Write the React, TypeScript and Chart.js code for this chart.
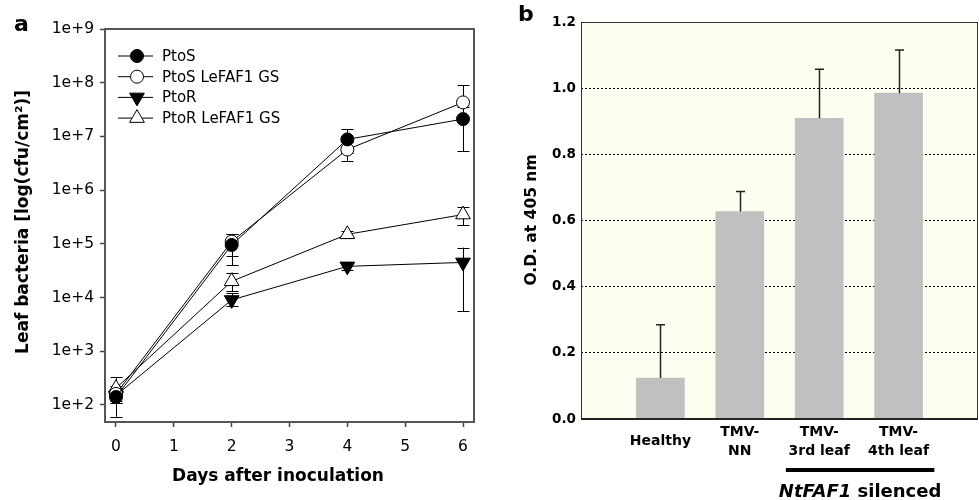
import React, { useEffect, useRef } from 'react';
import { Chart, registerables } from 'chart.js';

Chart.register(...registerables);

// ---------- Panel a data ----------
const days = [0, 2, 4, 6];
const dayTicks = [0, 1, 2, 3, 4, 5, 6];
const logTicks = [1e2, 1e3, 1e4, 1e5, 1e6, 1e7, 1e8, 1e9];
const logTickLabels = ['1e+2', '1e+3', '1e+4', '1e+5', '1e+6', '1e+7', '1e+8', '1e+9'];

const seriesNames = ['PtoS', 'PtoS LeFAF1 GS', 'PtoR', 'PtoR LeFAF1 GS'];

const ptoS = [140, 95000, 8.8e6, 2.1e7];
const ptoSHigh = [220, 150000, 1.35e7, 3.6e7];
const ptoSLow = [60, 40000, 5e6, 5.3e6];

const ptoSGS = [160, 110000, 5.7e6, 4.3e7];
const ptoSGSHigh = [210, 150000, 8e6, 9e7];
const ptoSGSLow = [110, 60000, 3.5e6, 2.2e7];

const ptoR = [150, 9000, 3.8e4, 4.5e4];
const ptoRHigh = [200, 12000, 4.4e4, 8.5e4];
const ptoRLow = [110, 7000, 3.3e4, 5.5e3];

const ptoRGS = [205, 20000, 1.5e5, 3.5e5];
const ptoRGSHigh = [330, 29000, 1.7e5, 4.9e5];
const ptoRGSLow = [120, 13000, 1.3e5, 2.2e5];

// ---------- Panel b data ----------
const groupPositions = [1, 2, 3, 4];
const groupLabels = [['Healthy'], ['TMV-', 'NN'], ['TMV-', '3rd leaf'], ['TMV-', '4th leaf']];
const odValues = [0.124, 0.627, 0.909, 0.985];
const odErrors = [0.161, 0.061, 0.148, 0.13];
const odTicks = [0, 0.2, 0.4, 0.6, 0.8, 1.0, 1.2];

const FONT = 'DejaVu Sans';

type MarkerKind = 'filledCircle' | 'openCircle' | 'downTriangle' | 'upTriangle';
const markerKinds: MarkerKind[] = ['filledCircle', 'openCircle', 'downTriangle', 'upTriangle'];

function drawMarker(ctx: CanvasRenderingContext2D, kind: MarkerKind, x: number, y: number) {
  ctx.save();
  ctx.lineWidth = 1;
  ctx.strokeStyle = '#000';
  ctx.beginPath();
  if (kind === 'filledCircle' || kind === 'openCircle') {
    ctx.arc(x, y, 6.5, 0, Math.PI * 2);
  } else {
    const r = 8.5;
    const s = kind === 'upTriangle' ? 1 : -1;
    ctx.moveTo(x, y - s * r);
    ctx.lineTo(x + r * 0.866, y + s * r * 0.5);
    ctx.lineTo(x - r * 0.866, y + s * r * 0.5);
    ctx.closePath();
  }
  ctx.fillStyle = kind === 'filledCircle' || kind === 'downTriangle' ? '#000' : '#fff';
  ctx.fill();
  ctx.stroke();
  ctx.restore();
}

function ChartA() {
  const ref = useRef<HTMLCanvasElement>(null);
  useEffect(() => {
    const values = [ptoS, ptoSGS, ptoR, ptoRGS];
    const errs = [
      [ptoSLow, ptoSHigh],
      [ptoSGSLow, ptoSGSHigh],
      [ptoRLow, ptoRHigh],
      [ptoRGSLow, ptoRGSHigh],
    ];
    const datasets = values.map((vals, k) => {
      const kind = markerKinds[k];
      const tri = kind === 'downTriangle' || kind === 'upTriangle';
      const filled = kind === 'filledCircle' || kind === 'downTriangle';
      return {
        label: seriesNames[k],
        data: days.map((d, i) => ({ x: d, y: vals[i] })),
        borderColor: '#000',
        borderWidth: 1,
        pointStyle: tri ? 'triangle' : 'circle',
        pointRotation: kind === 'downTriangle' ? 180 : 0,
        pointRadius: tri ? 8.5 : 6.5,
        pointBackgroundColor: filled ? '#000' : '#fff',
        pointBorderColor: '#000',
        pointBorderWidth: 1,
        showLine: true,
        fill: false,
        tension: 0,
      };
    });

    const decor = {
      id: 'decorA',
      beforeDatasetsDraw(chart: any) {
        const ctx = chart.ctx as CanvasRenderingContext2D;
        const xs = chart.scales.x;
        const ys = chart.scales.y;
        ctx.save();
        ctx.strokeStyle = '#000';
        ctx.lineWidth = 1;
        errs.forEach(([lo, hi]) => {
          days.forEach((d, i) => {
            const x = Math.round(xs.getPixelForValue(d)) + 0.5;
            const y1 = ys.getPixelForValue(lo[i]);
            const y2 = ys.getPixelForValue(hi[i]);
            ctx.beginPath();
            ctx.moveTo(x, y1);
            ctx.lineTo(x, y2);
            ctx.moveTo(x - 6, Math.round(y1) + 0.5);
            ctx.lineTo(x + 6, Math.round(y1) + 0.5);
            ctx.moveTo(x - 6, Math.round(y2) + 0.5);
            ctx.lineTo(x + 6, Math.round(y2) + 0.5);
            ctx.stroke();
          });
        });
        ctx.restore();
      },
      afterDraw(chart: any) {
        const ctx = chart.ctx as CanvasRenderingContext2D;
        const a = chart.chartArea;
        ctx.save();
        // frame
        ctx.strokeStyle = '#555';
        ctx.lineWidth = 2;
        ctx.strokeRect(a.left, a.top, a.right - a.left, a.bottom - a.top);
        // legend
        ctx.font = `15px '${FONT}'`;
        ctx.fillStyle = '#000';
        ctx.textBaseline = 'middle';
        seriesNames.forEach((name, k) => {
          const y = a.top + 27 + k * 20.7;
          ctx.strokeStyle = '#000';
          ctx.lineWidth = 1;
          ctx.beginPath();
          ctx.moveTo(a.left + 13, y);
          ctx.lineTo(a.left + 48, y);
          ctx.stroke();
          drawMarker(ctx, markerKinds[k], a.left + 32, y);
          ctx.fillStyle = '#000';
          ctx.fillText(name, a.left + 57, y + 1);
        });
        // panel letter
        ctx.font = `bold 22px '${FONT}'`;
        ctx.textBaseline = 'alphabetic';
        ctx.textAlign = 'left';
        ctx.fillText('a', 14, 31);
        // axis titles
        ctx.font = `bold 17px '${FONT}'`;
        ctx.textAlign = 'center';
        ctx.textBaseline = 'middle';
        ctx.fillText('Days after inoculation', 278, 477);
        ctx.translate(24, 222);
        ctx.rotate(-Math.PI / 2);
        ctx.fillText('Leaf bacteria [log(cfu/cm\u00B2)]', 0, 0);
        ctx.restore();
      },
    };

    const chart = new Chart(ref.current as HTMLCanvasElement, {
      type: 'line',
      data: { datasets: datasets as any },
      options: {
        animation: false,
        responsive: false,
        devicePixelRatio: 1,
        layout: { padding: { left: 0, top: 29, right: 16, bottom: 0 } },
        plugins: { legend: { display: false }, tooltip: { enabled: false } },
        scales: {
          x: {
            type: 'linear',
            min: -0.19,
            max: 6.19,
            afterBuildTicks: (s: any) => {
              s.ticks = dayTicks.map((v) => ({ value: v }));
            },
            afterFit: (s: any) => {
              s.height = 78;
            },
            grid: {
              display: true,
              drawOnChartArea: false,
              drawTicks: true,
              tickLength: 5,
              tickWidth: 1.5,
              tickColor: '#444',
              color: '#444',
            },
            border: { display: false },
            ticks: {
              font: { family: FONT, size: 15.5 },
              color: '#000',
              padding: 11,
              maxRotation: 0,
              autoSkip: false,
              callback: (v: any) => String(v),
            },
          },
          y: {
            type: 'logarithmic',
            min: 48,
            max: 1e9,
            afterBuildTicks: (s: any) => {
              s.ticks = logTicks.map((v) => ({ value: v }));
            },
            afterFit: (s: any) => {
              s.width = 105;
            },
            grid: {
              display: true,
              drawOnChartArea: false,
              drawTicks: true,
              tickLength: 5,
              tickWidth: 1.5,
              tickColor: '#444',
              color: '#444',
            },
            border: { display: false },
            ticks: {
              font: { family: FONT, size: 15.5 },
              color: '#000',
              padding: 6,
              autoSkip: false,
              callback: (_v: any, i: number) => logTickLabels[i],
            },
          },
        },
      },
      plugins: [decor],
    } as any);
    return () => chart.destroy();
  }, []);
  return <canvas ref={ref} width={490} height={500} style={{ position: 'absolute', left: 0, top: 0, width: 490, height: 500 }} />;
}

function ChartB() {
  const ref = useRef<HTMLCanvasElement>(null);
  useEffect(() => {
    const decor = {
      id: 'decorB',
      beforeDraw(chart: any) {
        const ctx = chart.ctx as CanvasRenderingContext2D;
        const a = chart.chartArea;
        ctx.save();
        ctx.fillStyle = '#FDFDF0';
        ctx.fillRect(a.left, a.top, a.right - a.left, a.bottom - a.top);
        ctx.restore();
      },
      afterDatasetsDraw(chart: any) {
        const ctx = chart.ctx as CanvasRenderingContext2D;
        const xs = chart.scales.x;
        const ys = chart.scales.y;
        ctx.save();
        ctx.strokeStyle = '#222';
        ctx.lineWidth = 1.5;
        groupPositions.forEach((p, i) => {
          const x = Math.round(xs.getPixelForValue(p)) + 0.5;
          const y1 = ys.getPixelForValue(odValues[i]);
          const y2 = ys.getPixelForValue(odValues[i] + odErrors[i]);
          ctx.beginPath();
          ctx.moveTo(x, y1);
          ctx.lineTo(x, y2);
          ctx.moveTo(x - 4.5, y2);
          ctx.lineTo(x + 4.5, y2);
          ctx.stroke();
        });
        ctx.restore();
      },
      afterDraw(chart: any) {
        const ctx = chart.ctx as CanvasRenderingContext2D;
        const a = chart.chartArea;
        const xs = chart.scales.x;
        ctx.save();
        ctx.strokeStyle = '#333';
        ctx.lineWidth = 1;
        ctx.strokeRect(a.left + 0.5, a.top + 0.5, a.right - a.left - 1, a.bottom - a.top);
        ctx.lineWidth = 2;
        ctx.strokeStyle = '#222';
        ctx.beginPath();
        ctx.moveTo(a.left, a.bottom);
        ctx.lineTo(a.right, a.bottom);
        ctx.stroke();
        // bracket for silenced groups
        const unit = xs.getPixelForValue(2) - xs.getPixelForValue(1);
        const bl = xs.getPixelForValue(groupPositions[2]) - 0.42 * unit;
        const br = xs.getPixelForValue(groupPositions[3]) + 0.45 * unit;
        ctx.fillStyle = '#000';
        ctx.fillRect(bl, 468, br - bl, 4);
        const cx = (bl + br) / 2;
        ctx.font = `italic bold 18px '${FONT}'`;
        const w1 = ctx.measureText('NtFAF1').width;
        ctx.font = `bold 18px '${FONT}'`;
        const w2 = ctx.measureText(' silenced').width;
        const sx = cx - (w1 + w2) / 2;
        ctx.textBaseline = 'alphabetic';
        ctx.textAlign = 'left';
        ctx.font = `italic bold 18px '${FONT}'`;
        ctx.fillText('NtFAF1', sx, 497);
        ctx.font = `bold 18px '${FONT}'`;
        ctx.fillText(' silenced', sx + w1, 497);
        // panel letter
        ctx.font = `bold 22px '${FONT}'`;
        ctx.fillText('b', 28, 21);
        // y title
        ctx.font = `bold 15.5px '${FONT}'`;
        ctx.textAlign = 'center';
        ctx.textBaseline = 'middle';
        ctx.translate(42, 220);
        ctx.rotate(-Math.PI / 2);
        ctx.fillText('O.D. at 405 nm', 0, 0);
        ctx.restore();
      },
    };

    const chart = new Chart(ref.current as HTMLCanvasElement, {
      type: 'bar',
      data: {
        datasets: [
          {
            label: 'O.D. at 405 nm',
            data: groupPositions.map((p, i) => ({ x: p, y: odValues[i] })),
            backgroundColor: '#C0C0C0',
            borderWidth: 0,
            barThickness: 48,
          },
        ],
      },
      options: {
        animation: false,
        responsive: false,
        devicePixelRatio: 1,
        layout: { padding: { left: 0, top: 22, right: 1, bottom: 0 } },
        plugins: { legend: { display: false }, tooltip: { enabled: false } },
        scales: {
          x: {
            type: 'linear',
            min: 0,
            max: 5,
            offset: false,
            afterBuildTicks: (s: any) => {
              s.ticks = groupPositions.map((v) => ({ value: v }));
            },
            afterFit: (s: any) => {
              s.height = 81;
            },
            grid: { display: false, offset: false },
            border: { display: false },
            ticks: {
              font: { family: FONT, size: 14, weight: 'bold', lineHeight: 1.35 },
              color: '#000',
              padding: 5,
              maxRotation: 0,
              autoSkip: false,
              crossAlign: 'center',
              callback: (_v: any, i: number) => groupLabels[i],
            },
          },
          y: {
            type: 'linear',
            min: 0,
            max: 1.2,
            afterBuildTicks: (s: any) => {
              s.ticks = odTicks.map((v) => ({ value: v }));
            },
            afterFit: (s: any) => {
              s.width = 91;
            },
            grid: {
              display: true,
              drawTicks: false,
              lineWidth: 1,
              color: (c: any) =>
                c.tick && (c.tick.value === odTicks[0] || c.tick.value === odTicks[odTicks.length - 1])
                  ? 'rgba(0,0,0,0)'
                  : '#000',
            },
            border: { display: false, dash: [2, 2] },
            ticks: {
              font: { family: FONT, size: 13.5, weight: 'bold' },
              color: '#000',
              padding: 5,
              autoSkip: false,
              callback: (_v: any, i: number) => odTicks[i].toFixed(1),
            },
          },
        },
      },
      plugins: [decor],
    } as any);
    return () => chart.destroy();
  }, []);
  return <canvas ref={ref} width={489} height={500} style={{ position: 'absolute', left: 490, top: 0, width: 489, height: 500 }} />;
}

export default function App() {
  return (
    <div style={{ position: 'absolute', left: 0, top: 0, width: 979, height: 500, background: '#fff', overflow: 'hidden' }}>
      <ChartA />
      <ChartB />
    </div>
  );
}
